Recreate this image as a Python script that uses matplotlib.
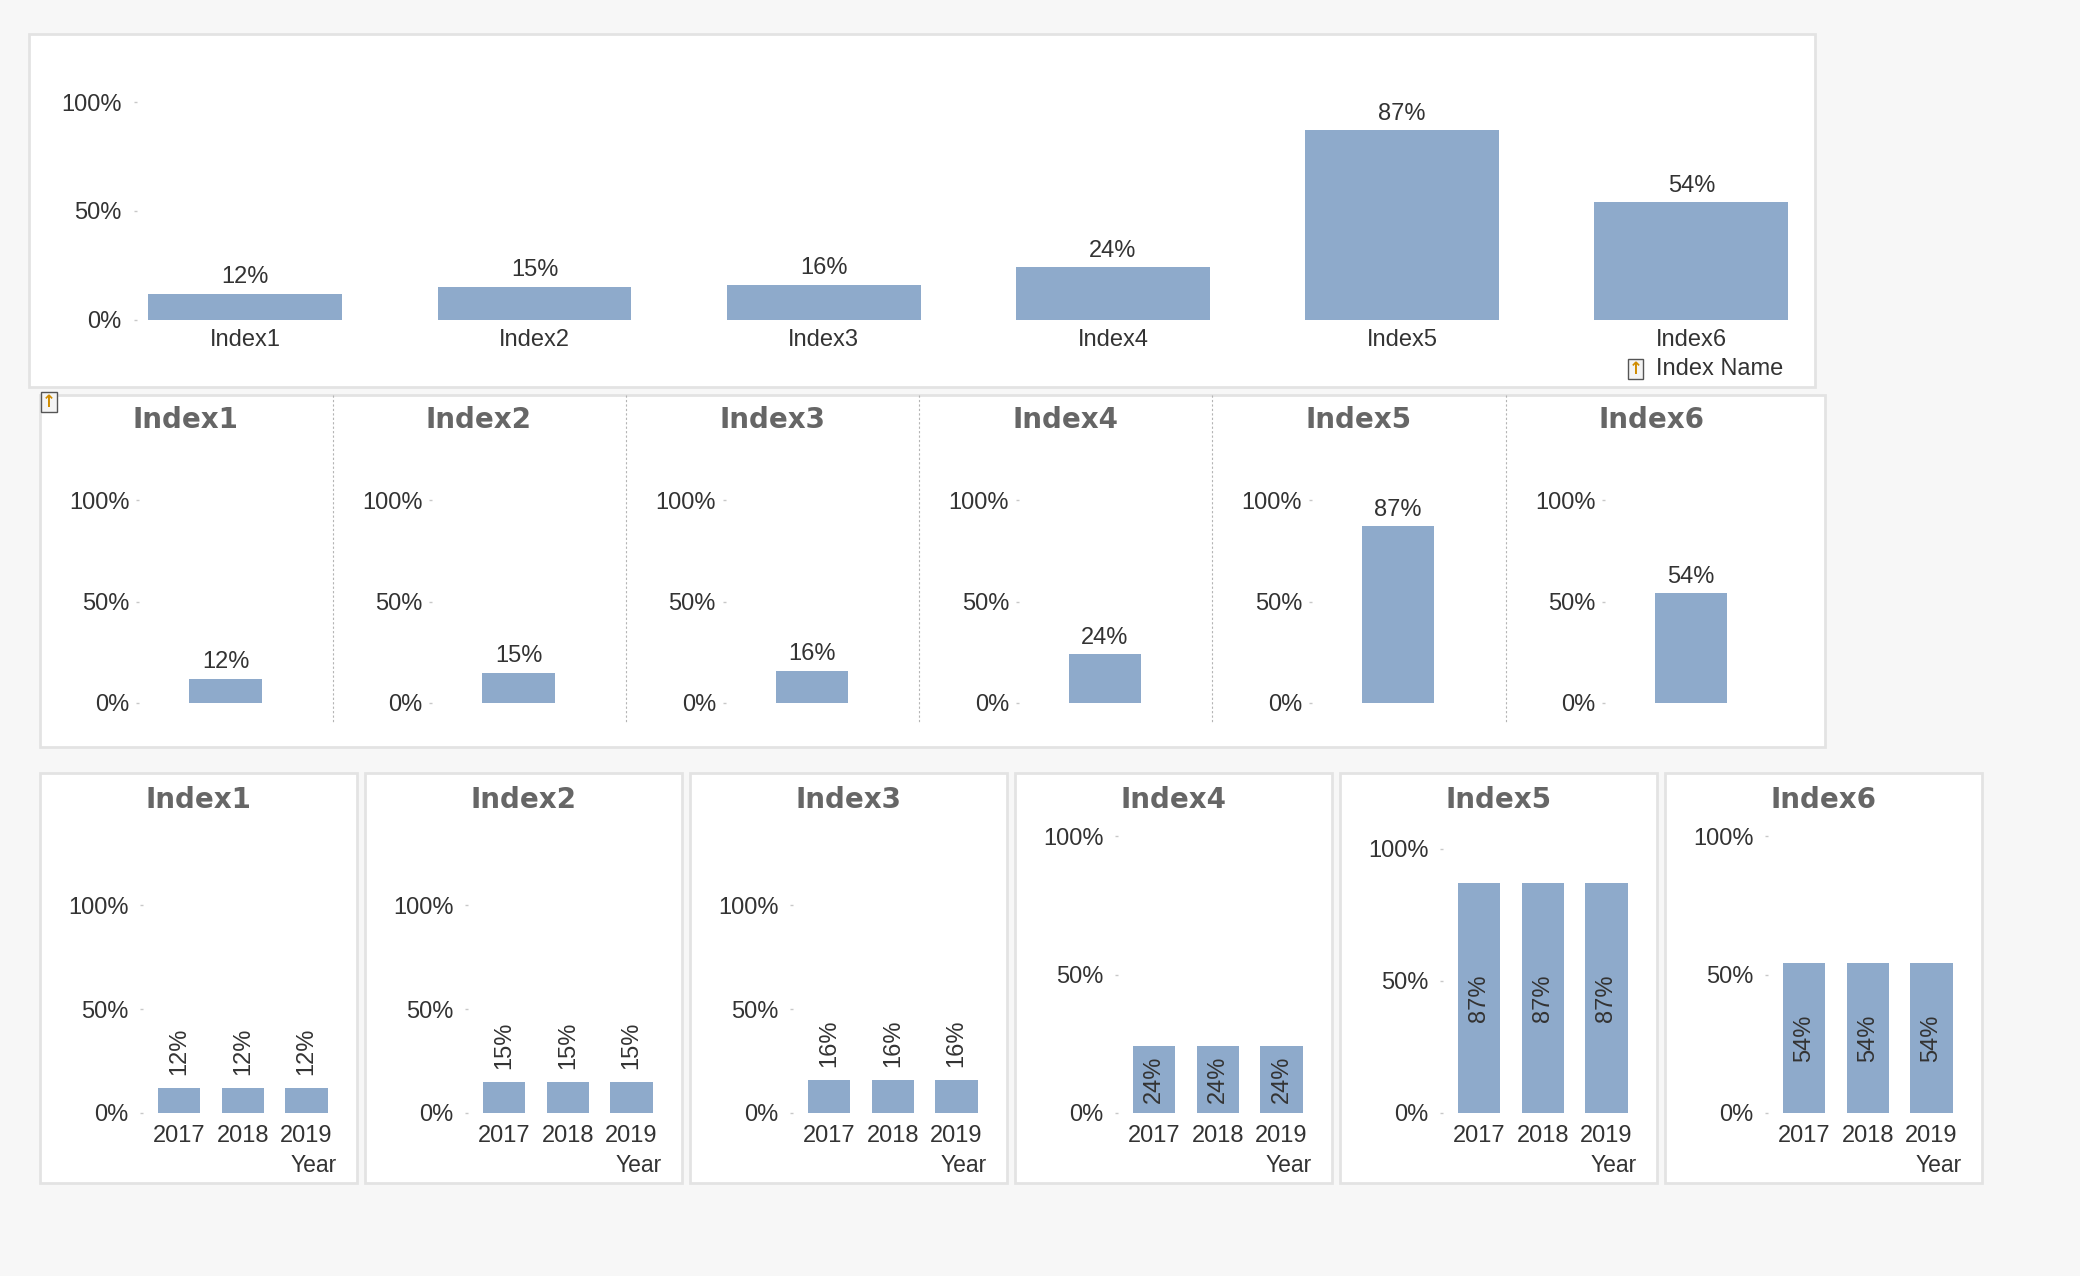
import matplotlib.pyplot as plt
from matplotlib.patches import Rectangle
from matplotlib.lines import Line2D

# data
index_names = ['Index1', 'Index2', 'Index3', 'Index4', 'Index5', 'Index6']
index_values = [0.12, 0.15, 0.16, 0.24, 0.87, 0.54]
years = ['2017', '2018', '2019']
values_by_year = [
    [0.12, 0.12, 0.12],
    [0.15, 0.15, 0.15],
    [0.16, 0.16, 0.16],
    [0.24, 0.24, 0.24],
    [0.87, 0.87, 0.87],
    [0.54, 0.54, 0.54],
]
y_ticks = [0, 0.5, 1.0]
y_tick_labels = ['0%', '50%', '100%']
# upper limit of each small chart in the bottom row
bottom_ymax = [1.40, 1.40, 1.40, 1.05, 1.10, 1.05]

BAR = '#8eaacb'
TXT = '#333333'
TITLE = '#666666'
BG = '#f7f7f7'
BORDER = '#e3e3e3'
FS = 17

# layout grid measured on the screenshot (1568 x 962)
W, H = 1568, 962

plt.rcParams['font.family'] = ['Liberation Sans', 'DejaVu Sans']

fig = plt.figure(figsize=(20.8, 12.76), dpi=100, facecolor=BG)


def box(x0, y0, x1, y1):
    fig.patches.append(Rectangle((x0 / W, 1 - y1 / H), (x1 - x0) / W, (y1 - y0) / H,
                                 transform=fig.transFigure, facecolor='white',
                                 edgecolor=BORDER, linewidth=2, zorder=-1))


def icon(x, y):
    fig.text(x / W, 1 - y / H, '\u2191', ha='center', va='center', fontsize=12,
             fontweight='bold', color='#d08c00', family='DejaVu Sans',
             bbox=dict(boxstyle='square,pad=0.05', facecolor='#f4f4f4',
                       edgecolor='#555555', linewidth=1))


def axes_at(x0, y0, x1, y1, ypad, xpad):
    ax = fig.add_axes([x0 / W, 1 - y1 / H, (x1 - x0) / W, (y1 - y0) / H])
    ax.set_facecolor('none')
    for s in ax.spines.values():
        s.set_visible(False)
    ax.set_yticks(y_ticks, y_tick_labels)
    ax.tick_params(axis='y', length=2, width=1, color='#c8c8c8', pad=ypad,
                   labelsize=FS, labelcolor=TXT)
    ax.tick_params(axis='x', length=0, pad=xpad, labelsize=FS, labelcolor=TXT)
    return ax


def title(x, y, s):
    fig.text(x / W, 1 - y / H, s, ha='center', va='center', fontsize=20,
             fontweight='bold', color=TITLE, family='DejaVu Sans')


# ---- top chart: one bar per index
box(22, 26, 1368, 292)
ax = axes_at(103, 77, 1357, 241, ypad=9, xpad=6.5)
ax.bar(range(len(index_names)), index_values, width=0.67, color=BAR)
ax.set_xlim(-0.376, 5.376)
ax.set_ylim(0, 1)
ax.set_xticks(range(len(index_names)), index_names)
for i, v in enumerate(index_values):
    ax.annotate(f'{v:.0%}', (i, v), xytext=(0, 4), textcoords='offset points',
                ha='center', va='bottom', fontsize=FS, color=TXT)
fig.text(1344 / W, 1 - 278 / H, 'Index Name', ha='right', va='center',
         fontsize=FS, color=TXT)
icon(1233, 278)

# ---- middle: trellis of six charts in one box
box(30, 298, 1376, 563)
icon(37, 303)
for k, (name, v) in enumerate(zip(index_names, index_values)):
    dx = 221 * k
    if k > 0:
        fig.add_artist(Line2D([(30 + dx) / W] * 2, [1 - 298 / H, 1 - 545 / H],
                              transform=fig.transFigure, color='#b4b4b4',
                              linewidth=0.8, linestyle=(0, (2, 2))))
    title(140 + dx, 317, name)
    ax = axes_at(105 + dx, 377, 236 + dx, 530, ypad=5, xpad=4)
    ax.bar([0], [v], width=1.0, color=BAR)
    ax.set_xlim(-1.19, 1.21)
    ax.set_ylim(0, 1)
    ax.set_xticks([])
    ax.annotate(f'{v:.0%}', (0, v), xytext=(0, 4), textcoords='offset points',
                ha='center', va='bottom', fontsize=FS, color=TXT)

# ---- bottom: one box per index, bars by year
for k, name in enumerate(index_names):
    dx = 245 * k
    box(30 + dx, 583, 269 + dx, 892)
    title(149.5 + dx, 603, name)
    ax = axes_at(108 + dx, 620, 255 + dx, 839, ypad=8.5, xpad=8.5)
    vals = values_by_year[k]
    ax.bar(range(len(years)), vals, width=0.667, color=BAR)
    ax.set_xlim(-0.5625, 2.5)
    ax.set_ylim(0, bottom_ymax[k])
    ax.set_xticks(range(len(years)), years)
    for i, v in enumerate(vals):
        if v < 0.2:
            ax.annotate(f'{v:.0%}', (i, v), xytext=(0, 9), textcoords='offset points',
                        ha='center', va='bottom', rotation=90, fontsize=FS, color=TXT)
        else:
            ax.text(i, v / 2, f'{v:.0%}', ha='center', va='center', rotation=90,
                    fontsize=FS, color=TXT)
    fig.text((254 + dx) / W, 1 - 878.5 / H, 'Year', ha='right', va='center',
             fontsize=16.5, color=TXT)

fig.savefig('out.png', dpi=100, facecolor=BG)
